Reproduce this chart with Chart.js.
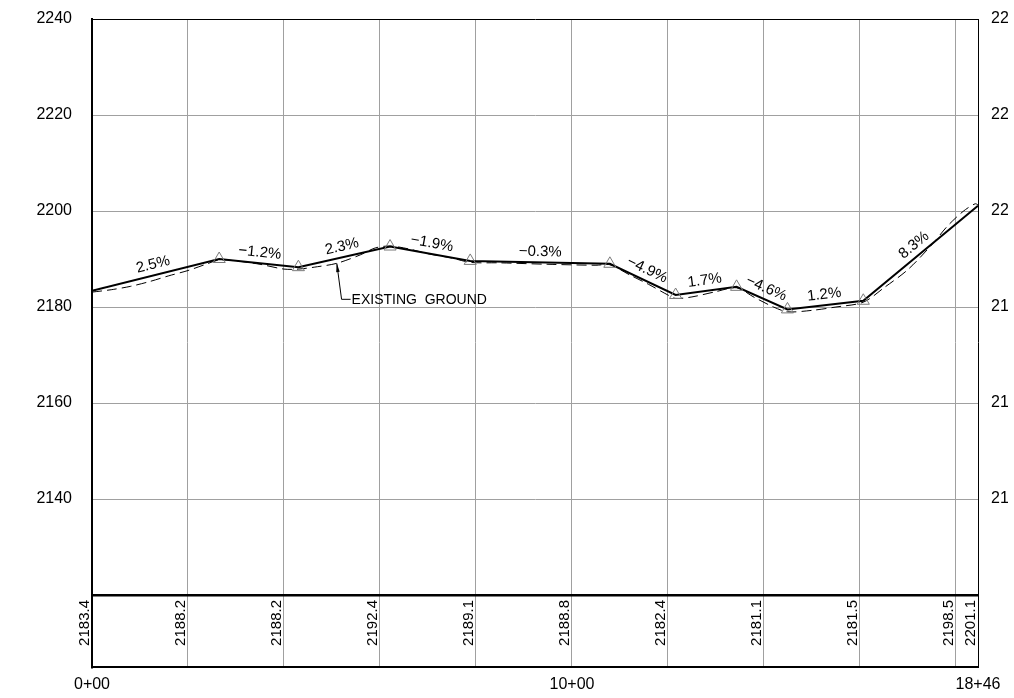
<!DOCTYPE html>
<html lang="en">
<head>
<meta charset="UTF-8">
<title>Profile</title>
<script src="https://cdn.jsdelivr.net/npm/chart.js@4.4.0/dist/chart.umd.min.js"></script>
<style>
    body { margin: 0; background: #fff; }
    canvas { display: block; }
</style>
</head>
<body>
<canvas id="profile" width="1014" height="698"></canvas>
<script>
    // design profile (PVI stations / elevations)
    var pviSta = [0, 265, 430, 621, 788, 1079, 1216, 1343, 1449, 1607, 1846];
    var pviElev = [2183.4, 2190.0, 2188.3, 2192.6, 2189.6, 2189.0, 2182.5, 2184.2, 2179.5, 2181.3, 2201.1];
    var grades = ["2.5%", "\u22121.2%", "2.3%", "\u22121.9%", "\u22120.3%", "\u22124.9%", "1.7%", "\u22124.6%", "1.2%", "8.3%"];

    // existing ground (dashed)
    var groundSta = [0, 40, 80, 120, 160, 200, 240, 265, 300, 350, 400, 430, 470, 510, 560, 590, 621, 660, 700, 750, 788, 850, 950, 1050, 1079, 1120, 1160, 1200, 1216, 1250, 1300, 1343, 1380, 1420, 1449, 1500, 1550, 1607, 1650, 1700, 1750, 1780, 1800, 1820, 1840, 1846];
    var groundElev = [2183.1, 2183.6, 2184.3, 2185.3, 2186.5, 2187.6, 2189.0, 2189.8, 2189.6, 2188.9, 2187.9, 2187.9, 2188.4, 2189.1, 2190.9, 2192.3, 2192.7, 2192.1, 2191.1, 2190.2, 2189.3, 2189.2, 2188.9, 2188.7, 2188.8, 2186.7, 2184.7, 2182.5, 2181.8, 2182.1, 2183.2, 2184.0, 2182.0, 2180.0, 2179.0, 2179.3, 2180.0, 2181.0, 2184.0, 2187.8, 2193.0, 2196.6, 2198.6, 2200.3, 2201.5, 2201.3];

    // bottom band: elevations at grid stations
    var bandSta = [0, 200, 400, 600, 800, 1000, 1200, 1400, 1600, 1800, 1846];
    var bandElev = ["2183.4", "2188.2", "2188.2", "2192.4", "2189.1", "2188.8", "2182.4", "2181.1", "2181.5", "2198.5", "2201.1"];

    var yTicks = [2120, 2140, 2160, 2180, 2200, 2220, 2240];
    var xLabelSta = [0, 1000, 1846];

    var leader = { tipSta: 510, tipElev: 2189.1, cornerSta: 520, cornerElev: 2181.6, text: "EXISTING  GROUND" };

    var FONT = '"Liberation Sans", Arial, sans-serif';

    function staLabel(v) {
        var h = Math.floor(v / 100);
        var r = Math.round(v - h * 100);
        return h + "+" + (r < 10 ? "0" + r : r);
    }

    var designData = [];
    for (var i = 0; i < pviSta.length; i++) designData.push({ x: pviSta[i], y: pviElev[i] });
    var groundData = [];
    for (var i = 0; i < groundSta.length; i++) groundData.push({ x: groundSta[i], y: groundElev[i] });

    var pointRadii = pviSta.map(function (s, i) { return (i == 0 || i == pviSta.length - 1) ? 0 : 7; });

    var annotations = {
        id: 'annotations',
        afterDatasetsDraw: function (chart) {
            var ctx = chart.ctx;
            var xs = chart.scales.x, ys = chart.scales.y;
            var ca = chart.chartArea;

            // grade labels along each segment
            ctx.save();
            ctx.fillStyle = '#000';
            ctx.font = '15px ' + FONT;
            ctx.textAlign = 'center';
            ctx.textBaseline = 'bottom';
            for (var i = 0; i < grades.length; i++) {
                var x1 = xs.getPixelForValue(pviSta[i]), y1 = ys.getPixelForValue(pviElev[i]);
                var x2 = xs.getPixelForValue(pviSta[i + 1]), y2 = ys.getPixelForValue(pviElev[i + 1]);
                ctx.save();
                ctx.translate((x1 + x2) / 2, (y1 + y2) / 2);
                ctx.rotate(Math.atan2(y2 - y1, x2 - x1));
                ctx.fillText(grades[i], 0, -3);
                ctx.restore();
            }
            ctx.restore();

            // existing ground leader
            var tx = xs.getPixelForValue(leader.tipSta), ty = ys.getPixelForValue(leader.tipElev);
            var cx = xs.getPixelForValue(leader.cornerSta), cy = ys.getPixelForValue(leader.cornerElev);
            ctx.save();
            ctx.strokeStyle = '#000';
            ctx.fillStyle = '#000';
            ctx.lineWidth = 1;
            ctx.beginPath();
            ctx.moveTo(tx, ty);
            ctx.lineTo(cx, cy);
            ctx.lineTo(cx + 9, cy);
            ctx.stroke();
            var a = Math.atan2(cy - ty, cx - tx);
            ctx.beginPath();
            ctx.moveTo(tx, ty);
            ctx.lineTo(tx + 9 * Math.cos(a - 0.2), ty + 9 * Math.sin(a - 0.2));
            ctx.lineTo(tx + 9 * Math.cos(a + 0.2), ty + 9 * Math.sin(a + 0.2));
            ctx.closePath();
            ctx.fill();
            ctx.font = '14px ' + FONT;
            ctx.textAlign = 'left';
            ctx.textBaseline = 'middle';
            ctx.fillText(leader.text, cx + 10, cy + 1);
            ctx.restore();

            // band elevations
            ctx.save();
            ctx.fillStyle = '#000';
            ctx.font = '15px ' + FONT;
            ctx.textAlign = 'right';
            ctx.textBaseline = 'alphabetic';
            var bandTop = ys.getPixelForValue(yTicks[0]);
            for (var i = 0; i < bandSta.length; i++) {
                ctx.save();
                ctx.translate(xs.getPixelForValue(bandSta[i]) - 3, bandTop + 5);
                ctx.rotate(-Math.PI / 2);
                ctx.fillText(bandElev[i], 0, 0);
                ctx.restore();
            }
            ctx.restore();

            // right-hand elevation labels (cut off by the sheet edge)
            ctx.save();
            ctx.beginPath();
            ctx.rect(0, 0, 1008, chart.height);
            ctx.clip();
            ctx.fillStyle = '#000';
            ctx.font = '16px ' + FONT;
            ctx.textAlign = 'left';
            ctx.textBaseline = 'middle';
            for (var i = 1; i < yTicks.length; i++) {
                ctx.fillText(String(yTicks[i]), ca.right + 13, ys.getPixelForValue(yTicks[i]));
            }
            ctx.restore();
        }
    };

    var config = {
        type: 'line',
        data: {
            datasets: [{
                label: 'Design',
                data: designData,
                borderColor: '#000',
                borderWidth: 2,
                pointStyle: 'triangle',
                pointRadius: pointRadii,
                pointBorderColor: '#7a7a7a',
                pointBackgroundColor: 'rgba(0,0,0,0)',
                pointBorderWidth: 1,
                tension: 0,
                order: 1
            }, {
                label: 'Existing ground',
                data: groundData,
                borderColor: '#000',
                borderWidth: 1,
                borderDash: [10, 5],
                pointRadius: 0,
                tension: 0.3,
                order: 2
            }]
        },
        options: {
            responsive: false,
            animation: false,
            devicePixelRatio: 1,
            layout: { padding: { top: 19, right: 36, left: 0, bottom: 0 } },
            plugins: { legend: { display: false }, tooltip: { enabled: false } },
            scales: {
                x: {
                    type: 'linear',
                    min: 0,
                    max: 1846,
                    afterBuildTicks: function (axis) {
                        axis.ticks = bandSta.map(function (v) { return { value: v }; });
                    },
                    afterFit: function (axis) { axis.height = 31; },
                    ticks: {
                        autoSkip: false,
                        maxRotation: 0,
                        padding: 8,
                        color: '#000',
                        font: { family: FONT, size: 16 },
                        callback: function (v) { return xLabelSta.indexOf(v) >= 0 ? staLabel(v) : ''; }
                    },
                    grid: {
                        tickLength: 0,
                        lineWidth: 1,
                        color: function (c) { return (c.tick && c.tick.value == 1846) ? '#000' : '#a0a0a0'; }
                    },
                    border: { display: true, color: '#000', width: 2 }
                },
                y: {
                    type: 'linear',
                    min: 2105,
                    max: 2240,
                    afterBuildTicks: function (axis) {
                        axis.ticks = yTicks.map(function (v) { return { value: v }; });
                    },
                    afterFit: function (axis) {
                        axis.width = 92;
                        axis.paddingTop = 0;
                        axis.paddingBottom = 0;
                    },
                    ticks: {
                        padding: 20,
                        color: '#000',
                        font: { family: FONT, size: 16 },
                        callback: function (v) { return v == yTicks[0] ? '' : String(v); }
                    },
                    grid: {
                        tickLength: 0,
                        color: function (c) {
                            if (!c.tick) return '#a0a0a0';
                            return (c.tick.value == yTicks[0] || c.tick.value == 2240) ? '#000' : '#a0a0a0';
                        },
                        lineWidth: function (c) { return (c.tick && c.tick.value == yTicks[0]) ? 2.5 : 1; }
                    },
                    border: { display: true, color: '#000', width: 2 }
                }
            }
        },
        plugins: [annotations]
    };

    var ctx = document.getElementById("profile").getContext("2d");
    new Chart(ctx, config);
</script>
</body>
</html>
